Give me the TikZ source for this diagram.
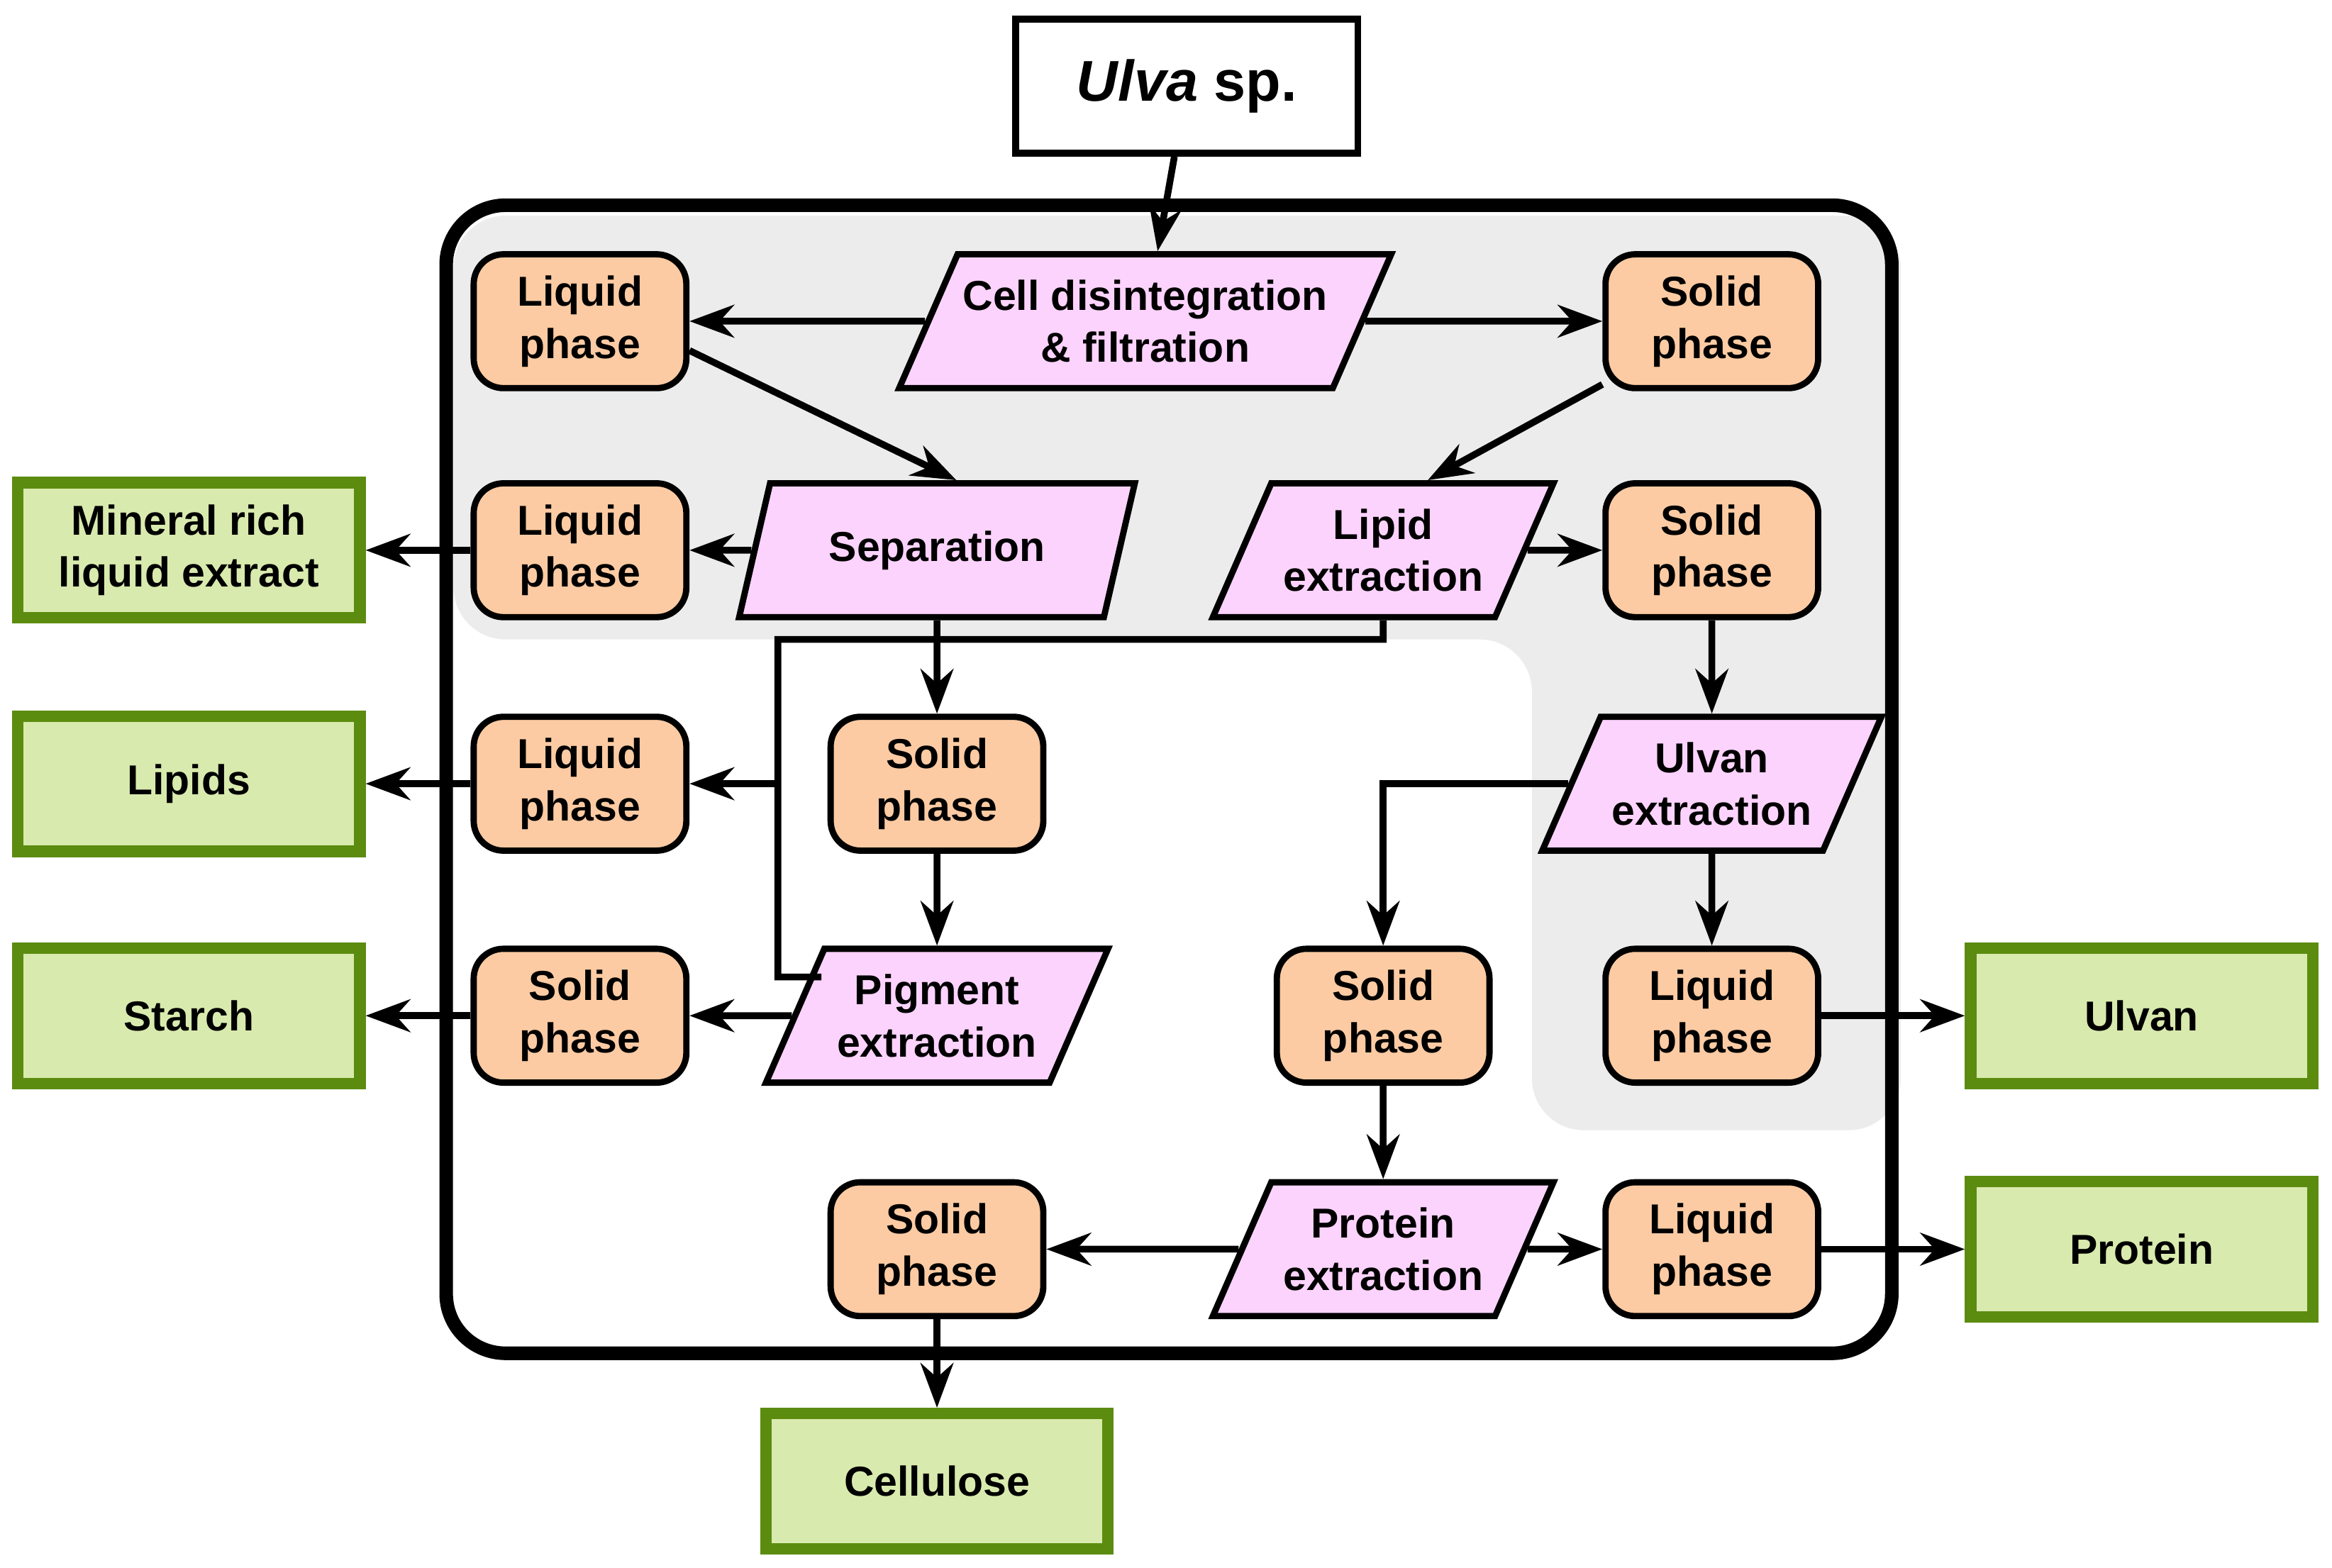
\documentclass[tikz,border=0pt]{standalone}
\usepackage{fontspec}
\setmainfont{Liberation Sans}
\usetikzlibrary{shapes.geometric,arrows.meta,calc}
\definecolor{orng}{HTML}{FCCBA3}
\definecolor{pnk}{HTML}{FCD3FC}
\definecolor{grnf}{HTML}{D9EAAE}
\definecolor{grnd}{HTML}{5B8C0F}
\definecolor{gry}{HTML}{ECECEC}
\begin{document}
\begin{tikzpicture}[
  font=\fontsize{8}{10}\selectfont\bfseries,
  ph/.style={draw,fill=orng,rounded corners=0.2cm,line width=1.2pt,minimum width=1.43cm,minimum height=0.9cm,align=center,inner sep=1pt},
  pr/.style={draw,fill=pnk,line width=1.2pt,trapezium,trapezium left angle=58,trapezium right angle=122,trapezium stretches body,minimum height=0.9cm,align=center,inner sep=1pt},
  gr/.style={draw=grnd,fill=grnf,line width=2.2pt,minimum width=2.3cm,minimum height=0.91cm,align=center},
  ar/.style={line width=1.3pt,-{Stealth[length=0.3cm,width=0.22cm]}},
  ln/.style={line width=1.3pt}]
\useasboundingbox (0,0) rectangle (15.68,-10.54);
\fill[gry,rounded corners=0.35cm] (3.05,-1.45) -- (12.78,-1.45) -- (12.78,-7.6) -- (10.3,-7.6) -- (10.3,-4.3) -- (3.05,-4.3) -- cycle;
\draw[line width=2.6pt,rounded corners=0.4cm] (3.0,-1.38) rectangle (12.72,-9.1);
\node[draw,fill=white,line width=1.3pt,minimum width=2.3cm,minimum height=0.9cm,font=\fontsize{11}{13}\selectfont\bfseries] (ulva) at (7.98,-0.58) {\textit{Ulva} sp.};
\node[pr,minimum width=3.28cm] (cell) at (7.70,-2.16) {Cell disintegration\\\& filtration};
\node[ph] (l1) at (3.90,-2.16) {Liquid\\phase};
\node[ph] (s1) at (11.51,-2.16) {Solid\\phase};
\node[gr] (min) at (1.27,-3.70) {Mineral rich\\liquid extract};
\node[ph] (l2) at (3.90,-3.70) {Liquid\\phase};
\node[pr,minimum width=2.66cm] (sep) at (6.30,-3.70) {Separation};
\node[pr,minimum width=2.29cm] (lip) at (9.30,-3.70) {Lipid\\extraction};
\node[ph] (s2) at (11.51,-3.70) {Solid\\phase};
\node[gr] (lipids) at (1.27,-5.27) {Lipids};
\node[ph] (l3) at (3.90,-5.27) {Liquid\\phase};
\node[ph] (s3) at (6.30,-5.27) {Solid\\phase};
\node[pr,minimum width=2.28cm] (ulx) at (11.51,-5.27) {Ulvan\\extraction};
\node[gr] (starch) at (1.27,-6.83) {Starch};
\node[ph] (s4) at (3.90,-6.83) {Solid\\phase};
\node[pr,minimum width=2.30cm] (pig) at (6.30,-6.83) {Pigment\\extraction};
\node[ph] (s5) at (9.30,-6.83) {Solid\\phase};
\node[ph] (l4) at (11.51,-6.83) {Liquid\\phase};
\node[gr] (ulvan) at (14.40,-6.83) {Ulvan};
\node[ph] (s6) at (6.30,-8.40) {Solid\\phase};
\node[pr,minimum width=2.29cm] (prx) at (9.30,-8.40) {Protein\\extraction};
\node[ph] (l5) at (11.51,-8.40) {Liquid\\phase};
\node[gr] (prot) at (14.40,-8.40) {Protein};
\node[gr] (cellu) at (6.30,-9.96) {Cellulose};
\draw[ar] (ulva) -- (cell);
\draw[ar] (cell) -- (l1);
\draw[ar] (cell) -- (s1);
\draw[ar] (l1.-15) -- ($(sep.north)+(0.13,0)$);
\draw[ar] (s1.-150) -- ($(lip.north)+(0.3,0)$);
\draw[ar] (sep) -- (l2);
\draw[ar] (l2) -- (min);
\draw[ar] (sep) -- (s3);
\draw[ar] (lip) -- (s2);
\draw[ar] (s2) -- (ulx);
\coordinate (j1) at (5.23,-4.30);
\coordinate (j2) at (5.23,-5.27);
\coordinate (j3) at (5.23,-6.57);
\draw[ln] (lip.south) |- (j1) -- (j3) -- ($(pig.west)+(0.2,0.26)$);
\draw[ar] (j2) -- (l3);
\draw[ar] (l3) -- (lipids);
\draw[ar] (s3) -- (pig);
\draw[ar] (pig) -- (s4);
\draw[ar] (s4) -- (starch);
\draw[ar] (ulx) -- (l4);
\draw[ar] (l4) -- (ulvan);
\draw[ar] (ulx.west) -| (s5.north);
\draw[ar] (s5) -- (prx);
\draw[ar] (prx) -- (s6);
\draw[ar] (prx) -- (l5);
\draw[ar] (l5) -- (prot);
\draw[ar] (s6) -- (cellu);
\end{tikzpicture}
\end{document}
